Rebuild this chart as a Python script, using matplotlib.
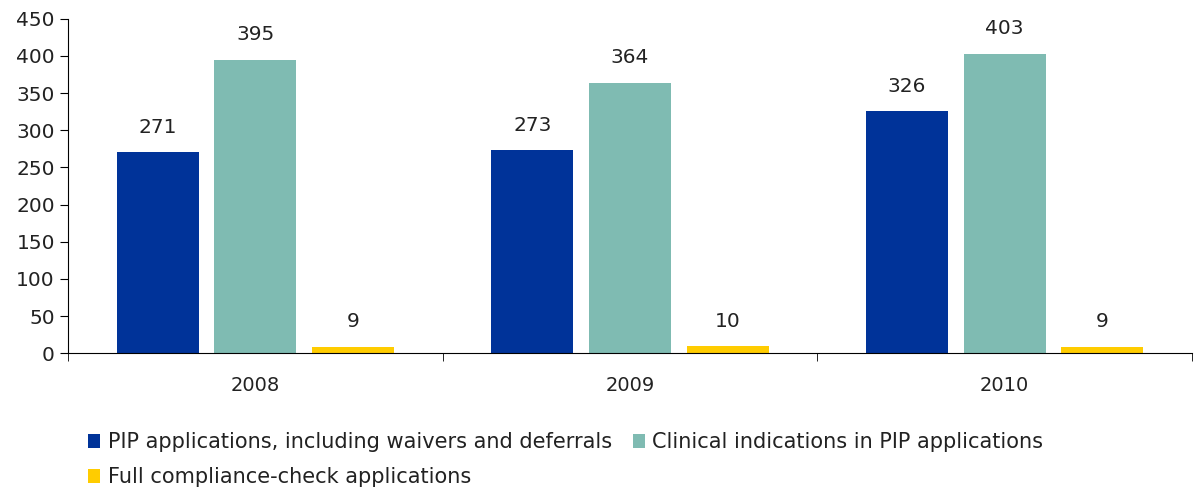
import numpy as np
import matplotlib.pyplot as plt

years = ['2008', '2009', '2010']
pip_apps = [271, 273, 326]
clinical = [395, 364, 403]
full_check = [9, 10, 9]

names = ['PIP applications, including waivers and deferrals',
         'Clinical indications in PIP applications',
         'Full compliance-check applications']
colors = ['#003399', '#7FBBB2', '#FFCC00']

plt.rcParams['font.family'] = 'DejaVu Sans'
fig = plt.figure(figsize=(11.95, 4.94), dpi=100)
ax = fig.add_axes([0.057, 0.285, 0.9405, 0.677])

x = np.arange(len(years))
w = 0.219
step = 0.261
bars = []
for i, (vals, c) in enumerate(zip([pip_apps, clinical, full_check], colors)):
    b = ax.bar(x + (i - 1) * step, vals, w, color=c, label=names[i])
    bars.append(b)
    for xi, v in zip(x + (i - 1) * step, vals):
        ax.annotate(str(v), (xi, v), xytext=(0, 11), textcoords='offset points',
                    ha='center', va='bottom', fontsize=14.5, color='#222222')

ax.set_xlim(-0.5, 2.5)
ax.set_ylim(0, 450)
ax.set_yticks(range(0, 451, 50))
ax.set_xticks(x)
ax.set_xticklabels(years)
ax.set_xticks([-0.5, 0.5, 1.5, 2.5], minor=True)
ax.tick_params(axis='x', which='major', length=0, pad=16.5, labelsize=14, labelcolor='#222222')
ax.tick_params(axis='x', which='minor', length=6, direction='out')
ax.tick_params(axis='y', length=6, direction='out', labelsize=14.5, labelcolor='#222222')
for s in ['top', 'right']:
    ax.spines[s].set_visible(False)

h = [bars[0], bars[2], bars[1]]
lab = [names[0], names[2], names[1]]
fig.legend(h, lab, ncol=2, loc='upper left', bbox_to_anchor=(0.0736, 0.125),
           frameon=False, fontsize=15, handlelength=0.6, handleheight=0.6,
           handletextpad=0.35, columnspacing=1.0, labelspacing=0.72,
           borderaxespad=0, borderpad=0, labelcolor='#222222')

fig.savefig('out.png', dpi=100)
